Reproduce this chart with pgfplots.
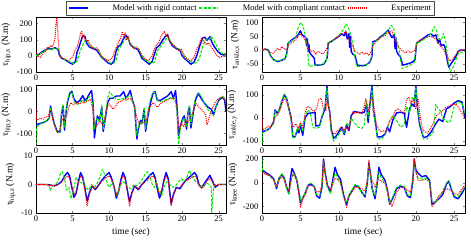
\documentclass[border=0pt]{standalone}
\usepackage{fontspec}
\setmainfont{Liberation Serif}
\usepackage{pgfplots}
\pgfplotsset{compat=1.18}
\definecolor{mblue}{RGB}{0,0,255}
\definecolor{mgreen}{RGB}{0,235,0}
\definecolor{mred}{RGB}{255,0,0}
\newcommand{\fs}{\fontsize{8.5}{9}\selectfont}
\newcommand{\fl}{\fontsize{9.5}{10}\selectfont}
\tikzset{
 rig/.style={color=mblue, line width=1.4pt},
 com/.style={color=mgreen, line width=1pt, dash pattern=on 3pt off 1.5pt},
 exp/.style={color=mred, line width=1pt, dash pattern=on 1pt off 1pt},
}
\pgfplotsset{
 myax/.style={scale only axis, anchor=south west, xmin=0, xtick={0,5,10,15,20,25},
   tick align=inside, major tick length=2pt, axis line style={line width=0.4pt},
   tick label style={font=\fs}, label style={font=\fl},
   /pgf/number format/assume math mode=true,
   xticklabel style={yshift=1pt}, ylabel style={yshift=-1pt},
   no markers, line join=round},
}
\begin{document}
\begin{tikzpicture}
\useasboundingbox (0,0) rectangle (471pt,-248pt);
% ---------------- hip x
\begin{axis}[myax, at={(36pt,-72pt)}, width=190pt, height=55pt, xmax=26, ymin=-100, ymax=240,
  ytick={-100,0,100,200}, ylabel={τ\textsubscript{hip,x} (N.m)},
  legend columns=3,
  legend style={at={(1.129,1.164)}, anchor=center, font=\fs, draw=black!70, inner sep=1.5pt,
    /tikz/every odd column/.append style={column sep=22pt}},
  legend image code/.code={\draw[#1] (0pt,0pt) -- (19pt,0pt);}]
\addplot[mblue, line width=1.4pt] coordinates {(0,0)(0.3,5)(0.7,20)(1.2,35)(1.7,45)(2.2,42)(2.6,50)(3.0,40)(3.2,5)(3.5,-15)(4.0,-25)(4.5,-40)(5.0,-52)(5.4,-35)(5.6,20)(5.9,55)(6.1,85)(6.4,125)(6.7,120)(6.9,80)(7.3,55)(7.8,45)(8.3,35)(8.7,10)(9.0,-10)(9.4,-25)(9.9,-45)(10.3,-52)(10.7,-30)(10.9,20)(11.2,55)(11.6,70)(11.9,100)(12.3,128)(12.6,110)(12.9,70)(13.4,50)(13.9,40)(14.2,15)(14.5,-15)(14.9,-30)(15.5,-52)(15.9,-35)(16.2,10)(16.5,50)(16.9,65)(17.3,95)(17.7,120)(18.0,130)(18.3,90)(18.7,60)(19.2,45)(19.7,35)(20.0,0)(20.4,-20)(20.8,-35)(21.2,-52)(21.6,-40)(22.0,0)(22.4,60)(22.8,110)(23.1,115)(23.4,95)(23.8,118)(24.1,80)(24.5,50)(24.9,25)(25.3,10)(25.7,5)(26,10)};
\addlegendentry{Model with rigid contact}
\addplot[mgreen, line width=1.1pt, dash pattern=on 3pt off 1.5pt] coordinates {(0,0)(0.5,10)(1,25)(1.5,40)(2,40)(2.5,45)(3,45)(3.3,5)(3.7,-20)(4.3,-30)(4.8,-40)(5.2,-48)(5.6,-35)(5.9,10)(6.2,45)(6.5,75)(6.8,100)(7.1,85)(7.4,60)(7.9,50)(8.4,40)(8.8,10)(9.2,-15)(9.7,-30)(10.2,-45)(10.6,-48)(11.0,-20)(11.3,40)(11.7,65)(12.1,95)(12.5,110)(12.8,90)(13.2,60)(13.7,50)(14.1,40)(14.4,10)(14.8,-20)(15.3,-35)(15.8,-45)(16.2,-40)(16.6,30)(17.0,55)(17.5,85)(17.9,110)(18.3,100)(18.7,70)(19.2,50)(19.7,40)(20.2,0)(20.6,-20)(21.1,-35)(21.6,-45)(22.0,-40)(22.4,-10)(22.8,60)(23.2,100)(23.6,95)(24.0,120)(24.4,90)(24.8,55)(25.2,25)(25.6,10)(26,15)};
\addlegendentry{Model with compliant contact}
\addplot[mred, line width=1.1pt, dash pattern=on 1pt off 1pt] coordinates {(0,20)(0.2,10)(0.4,-5)(0.6,-10)(0.8,5)(1,15)(1.3,30)(1.6,55)(1.8,45)(2.0,65)(2.2,55)(2.4,70)(2.6,110)(2.75,200)(2.85,235)(2.95,180)(3.05,90)(3.2,20)(3.4,-10)(3.7,-15)(4.0,-20)(4.3,-30)(4.6,-25)(4.9,-10)(5.1,0)(5.3,30)(5.5,50)(5.7,60)(5.9,100)(6.1,140)(6.25,150)(6.4,110)(6.55,130)(6.7,100)(6.9,90)(7.1,100)(7.4,70)(7.7,55)(8.0,40)(8.3,50)(8.6,35)(8.9,0)(9.2,-10)(9.5,-20)(9.8,-30)(10.1,-25)(10.4,-15)(10.7,20)(11.0,50)(11.3,85)(11.6,110)(11.8,150)(12.0,120)(12.2,140)(12.4,100)(12.6,120)(12.9,70)(13.2,55)(13.5,40)(13.8,55)(14.1,40)(14.4,10)(14.7,-10)(15.0,-20)(15.3,-30)(15.6,-20)(15.9,0)(16.2,40)(16.5,70)(16.8,80)(17.1,120)(17.4,140)(17.6,150)(17.8,120)(18.0,140)(18.2,100)(18.4,85)(18.7,70)(19.0,60)(19.3,45)(19.6,30)(19.9,40)(20.2,10)(20.5,-10)(20.8,-20)(21.1,-30)(21.4,-25)(21.7,0)(22.0,40)(22.4,80)(22.7,110)(23.0,90)(23.3,70)(23.6,80)(23.9,60)(24.2,40)(24.5,20)(24.8,0)(25.1,-10)(25.4,-5)(25.7,0)(26,10)};
\addlegendentry{Experiment}
\end{axis}
% ---------------- ankle x
\begin{axis}[myax, at={(262pt,-72pt)}, width=203pt, height=55pt, xmax=26.4, ymin=-80, ymax=120,
  ytick={-50,0,50,100}, ylabel={τ\textsubscript{ankle,x} (N.m)}]
\addplot[rig] coordinates {(0,0)(0.5,3)(0.8,0)(1.1,-20)(1.5,-35)(2,-42)(2.5,-38)(3,-32)(3.2,-15)(3.4,25)(3.8,35)(4.3,45)(4.7,55)(5,70)(5.2,55)(5.5,50)(5.7,45)(5.8,15)(5.9,40)(6.0,-5)(6.1,20)(6.2,-10)(6.5,-20)(6.8,-30)(6.9,-55)(7.5,-55)(8,-52)(8.3,-40)(8.5,-25)(8.6,25)(9,30)(9.5,40)(10,50)(10.4,58)(10.7,52)(10.9,65)(11.1,40)(11.3,60)(11.4,10)(11.5,50)(11.6,-5)(11.8,-15)(12.1,-20)(12.4,-55)(13,-57)(13.5,-55)(14,-45)(14.3,-25)(14.4,30)(14.9,35)(15.4,48)(15.9,58)(16.4,72)(16.7,55)(16.9,45)(17.2,55)(17.3,5)(17.4,45)(17.5,-5)(17.7,-15)(18,-25)(18.3,-55)(19,-50)(19.5,-45)(19.9,-35)(20.1,25)(20.6,35)(21.1,45)(21.6,55)(22,58)(22.3,50)(22.6,55)(22.9,25)(23.1,40)(23.3,15)(23.6,20)(23.8,10)(24.1,-40)(24.3,-62)(24.7,-45)(25.1,-30)(25.5,-5)(25.8,0)(26.4,0)};
\addplot[com] coordinates {(0,0)(0.5,2)(0.9,-5)(1.2,-25)(1.6,-38)(2.1,-40)(2.6,-35)(3.1,-30)(3.3,0)(3.5,30)(4,35)(4.4,50)(4.7,80)(5,100)(5.3,90)(5.5,70)(5.7,40)(5.9,10)(6.1,-60)(6.5,-58)(7,-55)(7.5,-55)(8,-50)(8.4,-35)(8.6,25)(9.1,30)(9.6,45)(10.1,55)(10.5,70)(10.9,95)(11.2,85)(11.5,60)(11.8,30)(12.1,-30)(12.3,-60)(12.8,-60)(13.3,-58)(13.8,-50)(14.2,-30)(14.4,25)(14.9,35)(15.4,45)(15.9,55)(16.4,70)(16.8,90)(17.1,80)(17.4,40)(17.7,20)(18,-30)(18.2,-68)(18.7,-62)(19.3,-55)(19.8,-45)(20.1,25)(20.6,30)(21.1,40)(21.6,50)(22,60)(22.4,85)(22.7,70)(23,40)(23.3,35)(23.6,60)(23.9,30)(24.2,-40)(24.5,-80)(24.9,-60)(25.3,-30)(25.6,-10)(26.4,-5)};
\addplot[exp] coordinates {(0,0)(0.4,5)(0.8,-3)(1.1,-8)(1.4,-12)(1.7,-5)(2.0,5)(2.3,0)(2.6,12)(2.9,5)(3.2,0)(3.5,20)(3.8,25)(4.1,30)(4.4,40)(4.7,48)(5,60)(5.2,50)(5.5,40)(5.8,25)(6.1,5)(6.4,-5)(6.7,-3)(7,-15)(7.3,-5)(7.6,-10)(7.9,-15)(8.2,-5)(8.5,10)(8.8,30)(9.1,35)(9.4,40)(9.7,45)(10,52)(10.3,60)(10.6,58)(10.9,70)(11.2,45)(11.5,30)(11.8,15)(12.1,-5)(12.4,-10)(12.7,-15)(13,-8)(13.3,-15)(13.6,-10)(13.9,-20)(14.2,-5)(14.5,20)(14.8,30)(15.1,35)(15.4,45)(15.7,50)(16,52)(16.3,60)(16.6,65)(16.9,70)(17.2,40)(17.5,25)(17.8,10)(18.1,0)(18.4,-5)(18.7,-10)(19,-3)(19.3,-10)(19.6,-5)(19.9,0)(20.2,25)(20.5,35)(20.8,40)(21.1,42)(21.4,45)(21.7,50)(22,48)(22.3,45)(22.6,40)(22.9,30)(23.2,15)(23.5,5)(23.8,-10)(24.1,-25)(24.4,-40)(24.7,-35)(25,-25)(25.3,-15)(25.6,-5)(26,0)(26.4,0)};
\end{axis}
% ---------------- hip y
\begin{axis}[myax, at={(36pt,-145pt)}, width=190pt, height=60pt, xmax=26, ymin=-152, ymax=120,
  ytick={-100,0,100}, ylabel={τ\textsubscript{hip,y} (N.m)}]
\addplot[rig] coordinates {(0,-60)(0.5,-55)(1,-50)(1.5,-42)(1.8,-30)(2.0,25)(2.2,-15)(2.5,-55)(2.9,-90)(3.3,-92)(3.5,-10)(3.7,25)(3.9,-85)(4.1,-5)(4.3,40)(4.6,80)(4.9,92)(5.2,55)(5.6,40)(6,50)(6.4,72)(6.7,50)(7.0,60)(7.3,80)(7.6,95)(7.8,40)(8.0,-120)(8.2,-60)(8.4,-20)(8.7,-40)(9.0,20)(9.2,-90)(9.5,-30)(9.8,40)(10.1,60)(10.5,60)(11,70)(11.5,70)(12,90)(12.3,60)(12.6,75)(12.9,95)(13.2,50)(13.5,20)(13.8,-125)(14.0,-80)(14.3,-40)(14.5,-55)(14.8,10)(15.0,-90)(15.3,-25)(15.6,30)(16,80)(16.3,90)(16.6,50)(17,50)(17.5,60)(18,70)(18.5,90)(18.8,60)(19.1,95)(19.3,20)(19.5,-110)(19.8,-60)(20.1,-30)(20.3,-20)(20.6,-80)(20.8,-5)(21,20)(21.2,-75)(21.5,-10)(21.8,50)(22.2,82)(22.6,60)(23,40)(23.5,20)(24,10)(24.3,-15)(24.6,20)(25,50)(25.5,65)(25.8,55)(26,0)};
\addplot[com] coordinates {(0,-150)(0.05,-70)(0.5,-60)(1,-50)(1.5,-40)(1.8,-30)(2.0,20)(2.2,-20)(2.5,-60)(2.9,-95)(3.3,-95)(3.5,0)(3.7,30)(3.9,-70)(4.1,0)(4.3,50)(4.6,88)(4.9,90)(5.2,45)(5.6,30)(6,40)(6.4,55)(6.7,40)(7.0,55)(7.3,70)(7.6,60)(7.8,30)(8.0,-80)(8.2,-40)(8.4,-30)(8.7,-50)(9.0,30)(9.2,-80)(9.5,-20)(9.8,60)(10.1,90)(10.5,70)(11,55)(11.5,55)(12,60)(12.5,65)(13,70)(13.3,40)(13.5,10)(13.8,-110)(14.0,-70)(14.3,-50)(14.5,-60)(14.8,20)(15.0,-80)(15.3,-10)(15.6,50)(16,88)(16.3,85)(16.6,50)(17,45)(17.5,50)(18,55)(18.5,65)(19,55)(19.3,0)(19.5,-150)(19.8,-70)(20.1,-40)(20.3,-30)(20.6,-70)(20.8,0)(21,30)(21.2,-60)(21.5,0)(21.8,60)(22.2,88)(22.6,70)(23,40)(23.5,10)(24,-10)(24.3,-20)(24.6,20)(25,55)(25.5,70)(25.8,60)(26,40)};
\addplot[exp] coordinates {(0,10)(0.1,-40)(0.4,-35)(0.7,-30)(1,-35)(1.3,-25)(1.6,-25)(1.9,0)(2.1,5)(2.3,-40)(2.6,-70)(2.9,-95)(3.2,-95)(3.4,-60)(3.6,-35)(3.9,-40)(4.2,-20)(4.5,20)(4.8,40)(5.1,30)(5.4,35)(5.7,40)(6,35)(6.3,45)(6.6,38)(6.9,45)(7.2,50)(7.5,55)(7.8,0)(8.0,-40)(8.2,-70)(8.5,-55)(8.8,-45)(9.1,-60)(9.4,-30)(9.7,20)(10.0,35)(10.3,20)(10.6,10)(10.9,25)(11.2,40)(11.5,45)(11.8,50)(12.1,55)(12.4,50)(12.7,60)(13.0,55)(13.3,45)(13.6,0)(13.9,-40)(14.2,-60)(14.5,-45)(14.8,-50)(15.1,-40)(15.4,10)(15.7,25)(16.0,40)(16.3,30)(16.6,20)(16.9,30)(17.2,40)(17.5,45)(17.8,50)(18.1,55)(18.4,60)(18.7,55)(19.0,60)(19.3,20)(19.6,-90)(19.9,-50)(20.2,-70)(20.5,-40)(20.8,-50)(21.1,-30)(21.4,-10)(21.7,20)(22.0,35)(22.3,20)(22.6,10)(22.9,0)(23.2,-15)(23.4,-60)(23.6,-40)(23.9,-5)(24.2,20)(24.5,40)(24.8,55)(25.1,60)(25.4,65)(25.7,55)(26,40)};
\end{axis}
% ---------------- ankle y
\begin{axis}[myax, at={(262pt,-145pt)}, width=203pt, height=60pt, xmax=26.4, ymin=-117, ymax=143,
  ytick={-100,0,100}, ylabel={τ\textsubscript{ankle,y} (N.m)}]
\addplot[rig] coordinates {(0,-60)(0.5,-55)(1,-45)(1.5,-20)(1.7,35)(2.0,20)(2.3,40)(2.6,75)(2.9,100)(3.2,85)(3.5,40)(3.8,0)(4.0,-80)(4.3,-82)(4.6,-50)(4.8,-65)(5.0,-30)(5.3,-75)(5.6,0)(6.0,20)(6.5,22)(6.9,25)(7.0,-35)(7.5,-32)(7.8,5)(8.2,40)(8.45,140)(8.6,60)(8.8,30)(9.0,-50)(9.3,-88)(9.6,-80)(10,-60)(10.4,-40)(10.7,-72)(11,-30)(11.3,-55)(11.6,10)(12,28)(12.5,25)(13,22)(13.3,25)(13.6,60)(13.8,-20)(14.1,80)(14.3,142)(14.5,30)(14.8,-30)(15.0,-82)(15.5,-82)(16,-70)(16.3,-40)(16.6,-60)(17,-10)(17.5,22)(18,25)(18.5,20)(18.8,-40)(19.2,40)(19.5,60)(19.8,50)(20.0,140)(20.2,50)(20.5,-30)(21,-85)(21.5,-80)(22,-60)(22.5,-30)(23,-5)(23.5,-15)(24,40)(24.5,50)(25,65)(25.5,75)(26,70)(26.4,0)};
\addplot[com] coordinates {(0,-110)(0.05,-65)(0.5,-55)(1,-45)(1.5,-25)(1.7,30)(2.0,15)(2.3,45)(2.6,80)(2.9,105)(3.2,90)(3.5,40)(3.8,-10)(4.0,-85)(4.3,-85)(4.6,-40)(4.8,-55)(5.0,-20)(5.3,-60)(5.6,10)(6.0,35)(6.3,20)(6.6,-40)(7.0,-45)(7.5,-40)(7.8,10)(8.2,50)(8.45,130)(8.6,70)(8.8,20)(9.0,-60)(9.3,-100)(9.6,-90)(10,-70)(10.4,-50)(10.7,-65)(11,-20)(11.3,-35)(11.6,0)(12,-20)(12.5,-40)(13,-45)(13.3,-30)(13.6,75)(13.8,0)(14.1,60)(14.3,135)(14.5,20)(14.8,-40)(15.0,-90)(15.5,-92)(16,-75)(16.3,-50)(16.6,-10)(17,10)(17.5,-10)(18,-40)(18.5,-30)(18.8,50)(19.2,20)(19.5,90)(19.8,70)(20.0,135)(20.2,60)(20.5,-20)(21,-90)(21.5,-90)(22,-70)(22.3,-60)(22.6,60)(22.9,40)(23.2,30)(23.5,0)(23.8,-10)(24.2,-20)(24.5,-15)(25,50)(25.5,70)(26,65)(26.4,20)};
\addplot[exp] coordinates {(0,10)(0.1,-50)(0.5,-45)(0.8,-35)(1.1,-40)(1.4,-20)(1.7,0)(2.0,15)(2.3,30)(2.6,60)(2.9,85)(3.2,70)(3.5,40)(3.8,-10)(4.1,-40)(4.4,-25)(4.7,-45)(5.0,-20)(5.3,-40)(5.6,20)(5.9,50)(6.2,45)(6.5,35)(6.8,30)(7.1,40)(7.4,80)(7.7,85)(8.0,40)(8.3,30)(8.5,85)(8.8,20)(9.1,-60)(9.4,-70)(9.7,-60)(10,-50)(10.3,-40)(10.6,-55)(10.9,-40)(11.2,-50)(11.5,-20)(11.8,30)(12.1,20)(12.4,25)(12.7,20)(13,20)(13.3,50)(13.5,85)(13.8,30)(14.1,70)(14.3,90)(14.6,40)(14.9,-30)(15.2,-50)(15.5,-60)(15.8,-55)(16.1,-60)(16.4,-30)(16.7,-10)(17,5)(17.3,30)(17.6,40)(17.9,35)(18.2,25)(18.5,20)(18.8,80)(19.1,90)(19.4,60)(19.7,85)(20,40)(20.3,85)(20.6,0)(20.9,-50)(21.2,-60)(21.5,-65)(21.8,-50)(22.1,-35)(22.4,-10)(22.7,10)(23,20)(23.3,25)(23.6,35)(23.9,45)(24.2,50)(24.5,55)(24.8,58)(25.1,60)(25.4,55)(25.7,40)(26,20)(26.4,0)};
\end{axis}
% ---------------- hip z
\begin{axis}[myax, at={(36pt,-213pt)}, width=190pt, height=57pt, xmax=26, ymin=-10, ymax=10,
  ytick={-10,0,10}, ylabel={τ\textsubscript{hip,z} (N.m)}, xlabel={time (sec)}]
\addplot[rig] coordinates {(0,0)(1,0)(1.5,0)(2,-0.2)(2.5,-0.5)(3,0)(3.5,1)(3.9,3)(4.3,4.2)(4.6,3)(4.9,-1)(5.2,-4.5)(5.5,-3)(5.8,1)(6.1,4.2)(6.4,2.5)(6.7,-1.5)(7.0,-5.8)(7.3,-3)(7.7,-0.5)(8.1,-1.8)(8.5,-0.5)(9,1.5)(9.5,3)(10,4.2)(10.3,2.5)(10.7,-1)(11.0,-4.8)(11.3,-2.5)(11.6,1.5)(11.9,4.2)(12.2,2.5)(12.5,-2)(12.8,-6)(13.1,-3)(13.5,-0.5)(14,-1.8)(14.5,0)(15,1.5)(15.5,3)(16,4.2)(16.3,2.5)(16.6,-1.5)(16.9,-4.8)(17.2,-2.5)(17.5,1.5)(17.8,4.2)(18.1,2)(18.3,-2.5)(18.5,-6.8)(18.8,-3.5)(19.2,-1)(19.7,-1.5)(20.2,0.5)(20.7,2)(21.2,3)(21.7,4.2)(22.0,3)(22.3,0)(22.7,-1)(23.2,1)(23.8,3.2)(24.2,1)(24.5,-1)(25,0)(26,0)};
\addplot[com] coordinates {(0,0)(1.5,0)(1.8,-0.5)(2.0,-2)(2.2,-0.5)(2.6,0)(3.0,1)(3.3,3.5)(3.6,4.5)(3.9,2)(4.2,-2)(4.5,-1)(4.8,-5)(5.1,-2)(5.5,2.5)(5.8,1)(6.2,0.5)(6.5,1.5)(6.8,-1)(7.2,-2)(7.6,0)(8.0,-1)(8.4,0.5)(8.8,3)(9.1,5.3)(9.4,3.5)(9.8,0)(10.1,-1)(10.5,1)(10.8,-2)(11.1,-4)(11.4,-1.5)(11.8,1)(12.2,0.5)(12.6,-1)(13,-1.5)(13.4,0)(13.8,-0.5)(14.2,0.5)(14.6,2)(15.0,4)(15.3,4.5)(15.6,3)(15.9,0)(16.2,-1)(16.5,1)(16.8,-2)(17.2,-4)(17.5,-1)(17.9,1)(18.3,0)(18.7,-1)(19.1,-0.5)(19.5,1)(19.9,2)(20.3,1)(20.7,3)(21.0,5)(21.3,3)(21.7,1.5)(22.1,0.5)(22.5,-0.5)(22.9,-1)(23.3,0.5)(23.7,0)(24.0,-1)(24.05,-10)(24.1,-8)(24.3,-1)(24.6,0)(25,0)(26,0)};
\addplot[exp] coordinates {(0,0)(1,0)(2,-0.3)(2.5,-0.5)(3,0)(3.5,0.8)(3.9,2)(4.3,3)(4.6,2.3)(4.9,-0.5)(5.2,-3.5)(5.5,-2.5)(5.8,0.5)(6.1,3)(6.4,2)(6.7,-2)(7.0,-7.5)(7.3,-3.5)(7.7,-0.5)(8.1,-1.5)(8.5,-0.3)(9,1)(9.5,2.2)(10,3)(10.3,2)(10.7,-0.5)(11.0,-3.5)(11.3,-2)(11.6,1)(11.9,3)(12.2,2)(12.5,-2.5)(12.8,-7.5)(13.1,-3.5)(13.5,-0.5)(14,-1.5)(14.5,0)(15,1)(15.5,2.2)(16,3)(16.3,2)(16.6,-1)(16.9,-3.5)(17.2,-2)(17.5,1)(17.8,3)(18.1,1.5)(18.3,-3)(18.5,-7.5)(18.8,-4)(19.2,-1)(19.7,-1)(20.2,0.5)(20.7,1.5)(21.2,2.2)(21.7,3)(22.0,2)(22.3,-0.5)(22.7,-1.5)(23.2,0.5)(23.8,2.2)(24.2,0.5)(24.5,-0.5)(25,0)(26,0)};
\end{axis}
% ---------------- knee
\begin{axis}[myax, at={(262pt,-213pt)}, width=203pt, height=57pt, xmax=26.4, ymin=-255, ymax=225,
  ytick={-200,0,200}, ylabel={τ\textsubscript{knee} (N.m)}, xlabel={time (sec)}]
\addplot[rig] coordinates {(0,110)(0.5,85)(1,65)(1.5,35)(1.9,-50)(2.2,35)(2.6,70)(2.9,40)(3.2,-40)(3.5,-90)(3.7,40)(3.9,120)(4.2,80)(4.5,30)(4.8,-80)(5.0,-170)(5.3,-130)(5.6,-90)(6,-20)(6.4,-15)(6.8,-30)(7.1,-110)(7.5,-130)(7.8,-40)(8.0,200)(8.2,90)(8.5,-20)(8.9,-80)(9.2,20)(9.5,130)(9.8,70)(10.2,30)(10.6,-100)(11.0,-185)(11.3,-110)(11.8,-60)(12.1,-25)(12.5,-30)(13,-80)(13.4,-120)(13.7,0)(13.9,165)(14.1,80)(14.3,-40)(14.7,-135)(15.0,0)(15.2,130)(15.5,70)(16,20)(16.3,-60)(16.6,-180)(17,-130)(17.5,-50)(18,-30)(18.5,-40)(18.9,-110)(19.3,-125)(19.6,0)(19.8,200)(20.0,110)(20.3,80)(20.8,50)(21.3,60)(21.8,20)(22.1,-180)(22.5,-165)(23,-135)(23.5,-100)(24,-10)(24.3,10)(24.6,-50)(25,-120)(25.5,-135)(26,-90)(26.4,-40)};
\addplot[com] coordinates {(0,200)(0.05,90)(0.5,75)(1,55)(1.5,25)(1.9,-40)(2.2,40)(2.6,75)(2.9,30)(3.2,-50)(3.5,-100)(3.8,20)(4.0,80)(4.3,60)(4.6,10)(4.9,-100)(5.1,-160)(5.4,-120)(5.7,-70)(6,-10)(6.4,-5)(6.8,-30)(7.1,-100)(7.5,-110)(7.8,-30)(8.0,180)(8.2,70)(8.5,-40)(8.9,-90)(9.2,0)(9.5,80)(9.8,50)(10.2,0)(10.6,-120)(11.0,-170)(11.3,-100)(11.8,-50)(12.1,-15)(12.5,-25)(13,-90)(13.4,-110)(13.7,10)(13.9,150)(14.1,60)(14.3,-50)(14.7,-110)(15.0,10)(15.2,90)(15.5,40)(16,0)(16.3,-80)(16.6,-170)(17,-120)(17.5,-40)(18,-20)(18.5,-30)(18.9,-100)(19.3,-110)(19.6,20)(19.8,180)(20.0,90)(20.3,40)(20.8,30)(21.3,40)(21.8,10)(22.1,-150)(22.5,-170)(23,-130)(23.5,-70)(24,0)(24.3,20)(24.6,-40)(25,-110)(25.5,-120)(26,-70)(26.4,-30)};
\addplot[exp] coordinates {(0,80)(0.5,70)(1,60)(1.5,30)(1.9,-30)(2.2,20)(2.6,50)(2.9,20)(3.2,-30)(3.5,-70)(3.8,20)(4.0,70)(4.3,50)(4.6,0)(4.8,-100)(5.0,-210)(5.3,-140)(5.7,-90)(6,-30)(6.4,-20)(6.8,-40)(7.1,-70)(7.5,-80)(7.8,-20)(8.0,190)(8.2,80)(8.5,-20)(8.9,-60)(9.2,-10)(9.5,40)(9.8,30)(10.2,0)(10.6,-100)(11.0,-210)(11.3,-120)(11.8,-70)(12.1,-40)(12.5,-40)(13,-50)(13.4,-70)(13.7,20)(13.9,190)(14.1,70)(14.3,20)(14.7,-40)(15.0,20)(15.2,30)(15.5,10)(16,0)(16.3,-60)(16.6,-150)(16.9,-200)(17.2,-150)(17.5,-80)(18,-40)(18.5,-40)(18.9,-60)(19.3,-80)(19.6,30)(19.8,200)(20.0,100)(20.3,20)(20.8,20)(21.3,30)(21.8,10)(22.1,-200)(22.5,-170)(23,-110)(23.5,-80)(24,-50)(24.5,-60)(25,-90)(25.5,-100)(26,-50)(26.4,-20)};
\end{axis}
\end{tikzpicture}
\end{document}
